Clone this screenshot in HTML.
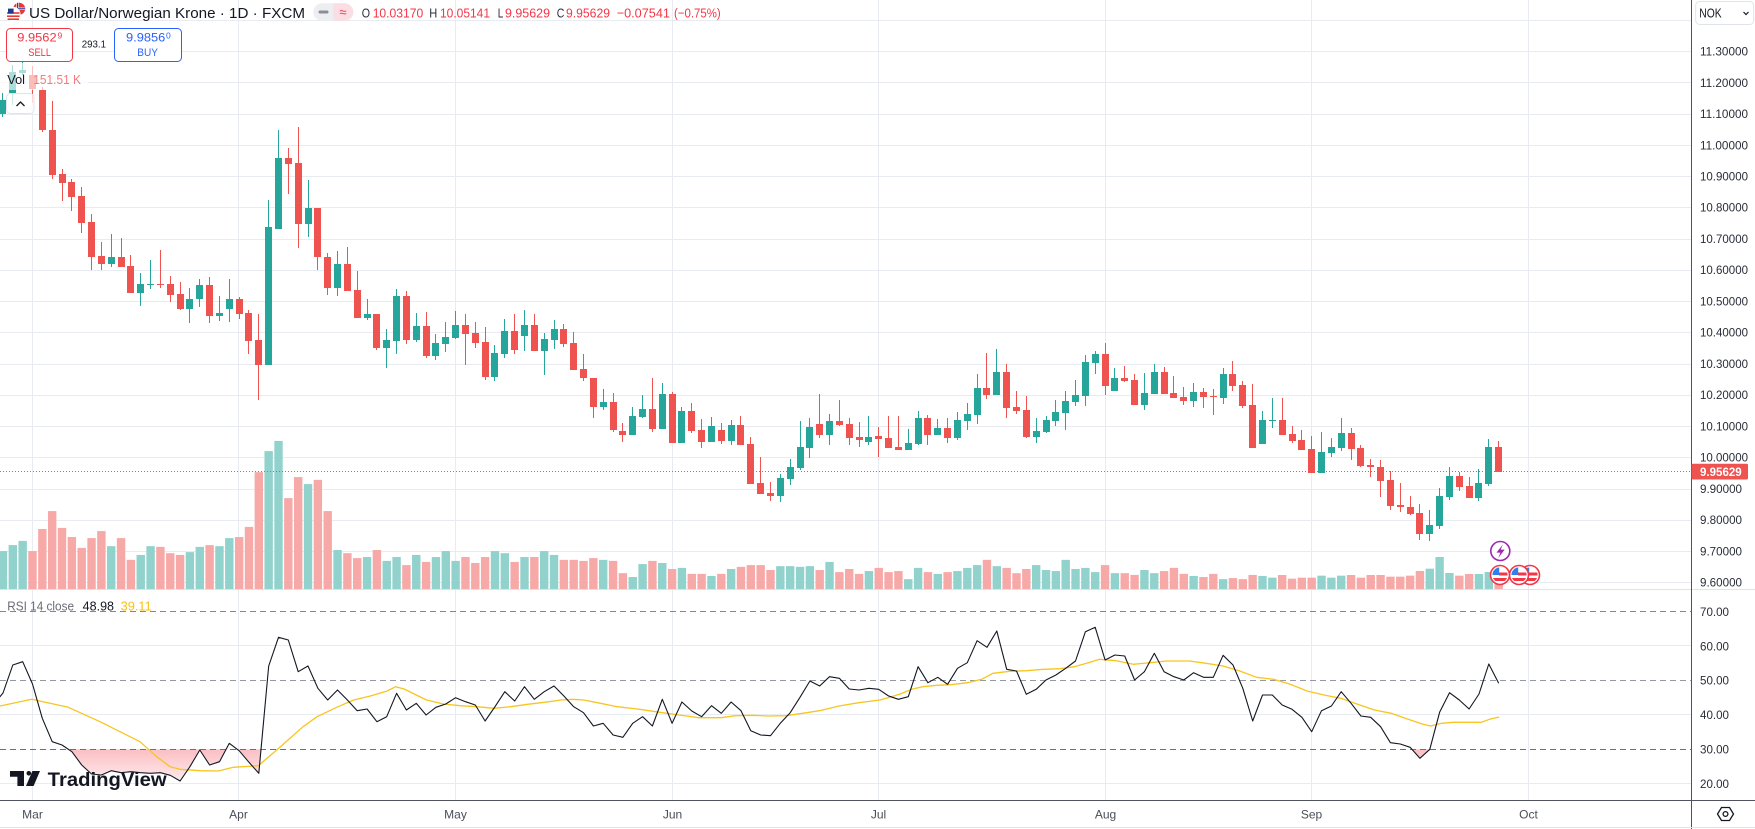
<!DOCTYPE html>
<html><head><meta charset="utf-8"><title>USDNOK 1D</title>
<style>
html,body{margin:0;padding:0;background:#fff}
body{width:1755px;height:829px;overflow:hidden}
svg{display:block;font-family:"Liberation Sans",Arial,sans-serif}
</style></head>
<body>
<svg id="s" width="1755" height="829" viewBox="0 0 1755 829" xmlns="http://www.w3.org/2000/svg">
<defs>
<linearGradient id="pk" x1="0" y1="749.2" x2="0" y2="792" gradientUnits="userSpaceOnUse">
<stop offset="0" stop-color="#f23645" stop-opacity="0.32"/>
<stop offset="1" stop-color="#f23645" stop-opacity="0.03"/>
</linearGradient>
<clipPath id="below30"><rect x="0" y="749.2" width="1691" height="51"/></clipPath>
</defs>
<rect width="1755" height="829" fill="#fff"/>
<g id="dyn"></g>

<!-- legend overlay for volume row -->
<rect x="0" y="63" width="88" height="27" fill="#fff" fill-opacity="0.62"/>
<rect x="6.5" y="93.5" width="27.5" height="20" rx="4" fill="#fff" fill-opacity="0.75" stroke="#e0e3eb"/>
<path d="M16.5,106 L20.5,102 L24.5,106" fill="none" stroke="#131722" stroke-width="1.3"/>
<text x="7.3" y="84" font-size="13" fill="#131722" textLength="17.7" lengthAdjust="spacingAndGlyphs">Vol</text>
<text x="33.3" y="84" font-size="13" fill="#f47c7a" textLength="47.7" lengthAdjust="spacingAndGlyphs">151.51 K</text>

<!-- title row -->
<g>
<circle cx="19.2" cy="8.8" r="6" fill="#e53935"/>
<rect x="13.2" y="7.6" width="12" height="2.4" fill="#fff"/>
<rect x="16.4" y="2.8" width="2.4" height="12" fill="#fff"/>
<rect x="13.2" y="8.2" width="12" height="1.2" fill="#1e40af"/>
<rect x="17" y="2.8" width="1.2" height="12" fill="#1e40af"/>
<circle cx="13.3" cy="14" r="7.2" fill="#fff"/>
<rect x="7" y="12.2" width="12.6" height="1.6" fill="#e53935"/>
<rect x="7" y="15.4" width="12.6" height="1.6" fill="#e53935"/>
<rect x="7.6" y="18.4" width="11.4" height="1.6" fill="#e53935"/>
<rect x="8" y="8.6" width="5.6" height="5" fill="#1e3a8a"/>
</g>
<text x="29" y="17.8" font-size="14.5" fill="#131722" textLength="276" lengthAdjust="spacingAndGlyphs">US Dollar/Norwegian Krone · 1D · FXCM</text>
<rect x="313.3" y="3.3" width="40" height="17.4" rx="8.7" fill="#eceef2"/>
<path d="M333.3,3.3 H344.6 A8.7,8.7 0 0 1 344.6,20.7 H333.3 Z" fill="#fbdde4"/>
<line x1="320" y1="12" x2="327" y2="12" stroke="#8a8d96" stroke-width="3" stroke-linecap="round"/>
<text x="343" y="16.5" font-size="13" fill="#f23645" text-anchor="middle">≈</text>
<g font-size="13">
<text x="361.7" y="17.5" fill="#2a2e39" textLength="8.3" lengthAdjust="spacingAndGlyphs">O</text>
<text x="372.7" y="17.5" fill="#f23645" textLength="50.6" lengthAdjust="spacingAndGlyphs">10.03170</text>
<text x="429.3" y="17.5" fill="#2a2e39" textLength="8" lengthAdjust="spacingAndGlyphs">H</text>
<text x="440" y="17.5" fill="#f23645" textLength="50" lengthAdjust="spacingAndGlyphs">10.05141</text>
<text x="497.7" y="17.5" fill="#2a2e39" textLength="5.6" lengthAdjust="spacingAndGlyphs">L</text>
<text x="505" y="17.5" fill="#f23645" textLength="45" lengthAdjust="spacingAndGlyphs">9.95629</text>
<text x="556.7" y="17.5" fill="#2a2e39" textLength="7.6" lengthAdjust="spacingAndGlyphs">C</text>
<text x="566" y="17.5" fill="#f23645" textLength="44" lengthAdjust="spacingAndGlyphs">9.95629</text>
<text x="616.7" y="17.5" fill="#f23645" textLength="53.3" lengthAdjust="spacingAndGlyphs">−0.07541</text>
<text x="674" y="17.5" fill="#f23645" textLength="46.7" lengthAdjust="spacingAndGlyphs">(−0.75%)</text>
</g>

<!-- sell / buy -->
<rect x="6.5" y="28.5" width="66" height="33" rx="4" fill="#fff" stroke="#f23645"/>
<text x="17.3" y="41.7" font-size="12" fill="#f23645" textLength="39.3" lengthAdjust="spacingAndGlyphs">9.9562</text>
<text x="57.5" y="38.5" font-size="8.5" fill="#f23645">9</text>
<text x="28.3" y="56" font-size="11" fill="#f23645" textLength="22.7" lengthAdjust="spacingAndGlyphs">SELL</text>
<text x="81.7" y="47.7" font-size="10" fill="#131722" textLength="24.3" lengthAdjust="spacingAndGlyphs">293.1</text>
<rect x="114.5" y="28.5" width="67" height="33" rx="4" fill="#fff" stroke="#2962ff"/>
<text x="126" y="41.7" font-size="12" fill="#2962ff" textLength="39.3" lengthAdjust="spacingAndGlyphs">9.9856</text>
<text x="166" y="38.5" font-size="8.5" fill="#2962ff">0</text>
<text x="137.3" y="56" font-size="11" fill="#2962ff" textLength="20.7" lengthAdjust="spacingAndGlyphs">BUY</text>

<!-- RSI legend -->
<text x="7.3" y="610.7" font-size="12.5" fill="#6a6d78" textLength="66.7" lengthAdjust="spacingAndGlyphs">RSI 14 close</text>
<text x="82.7" y="610.7" font-size="12.5" fill="#131722" textLength="31.3" lengthAdjust="spacingAndGlyphs">48.98</text>
<text x="120.7" y="610.7" font-size="12.5" fill="#f5c21b" textLength="31" lengthAdjust="spacingAndGlyphs">39.11</text>

<!-- TradingView logo -->
<g fill="#131722">
<path d="M10,771 H24 V786 H17.4 V776.7 H10 Z"/>
<circle cx="28.8" cy="773.3" r="2.3"/>
<path d="M32.4,771 H40 L33.6,786 H26 Z"/>
<text x="47.7" y="786" font-size="19" font-weight="bold" textLength="119" lengthAdjust="spacingAndGlyphs">TradingView</text>
</g>

<!-- axes -->
<rect x="1692" y="0" width="63" height="829" fill="#fff"/>
<line x1="0" y1="589.5" x2="1755" y2="589.5" stroke="#e0e3eb"/>
<line x1="1691.5" y1="0" x2="1691.5" y2="829" stroke="#50535e"/>
<line x1="0" y1="800.5" x2="1755" y2="800.5" stroke="#50535e"/>
<line x1="0" y1="827.5" x2="1755" y2="827.5" stroke="#e0e3eb"/>
<g id="axis" font-size="12" fill="#2a2e39"></g>

<rect x="1695.7" y="1.5" width="58" height="23" rx="4" fill="#fff" stroke="#e0e3eb"/>
<text x="1699.3" y="17.3" font-size="13" fill="#131722" textLength="22.4" lengthAdjust="spacingAndGlyphs">NOK</text>
<path d="M1743.5,12 L1746,14.5 L1748.5,12" fill="none" stroke="#131722" stroke-width="1.2"/>

<!-- price tag -->
<rect x="1691.5" y="463.8" width="56.5" height="15.7" rx="1.5" fill="#ef5350"/>
<text x="1700" y="476" font-size="12" font-weight="bold" fill="#fff" textLength="41.7" lengthAdjust="spacingAndGlyphs">9.95629</text>

<!-- settings icon -->
<path d="M1721.5,807.5 H1729.5 L1733.5,814 L1729.5,820.5 H1721.5 L1717.5,814 Z" fill="none" stroke="#131722" stroke-width="1.3"/>
<circle cx="1725.5" cy="814" r="2.4" fill="none" stroke="#131722" stroke-width="1.3"/>

<!-- event icons -->
<g id="ev"></g>
</svg>

<script>
(function(){
var X=function(i){return 32.5+9.84*i;};
var ya=function(p){return 40+p/2.8509;}, yb=function(p){return 300+p/3;};
var G='#26a69a',R='#ef5350',GV='#92d2cc',RV='#f7a9a7';
var h='';
[32.5,238.5,455.5,672.5,878.5,1105.5,1311.5,1528.5].forEach(function(x){h+='<line x1="'+x+'" y1="0" x2="'+x+'" y2="800" stroke="#e8ecf2"/>';});
for(var k=0;k<=18;k++){var y=Math.round(20+31.24*k)+0.5;h+='<line x1="0" y1="'+y+'" x2="1691" y2="'+y+'" stroke="#e8ecf2"/>';}
[645.5,714.5,783.5].forEach(function(y){h+='<line x1="0" y1="'+y+'" x2="1691" y2="'+y+'" stroke="#e8ecf2"/>';});

function vols(str,start,f){str.trim().split(/\s+/).forEach(function(t,k){var i=start+k;var top=f(+t.slice(1));var x=X(i)-4.2;h+='<rect x="'+x.toFixed(2)+'" y="'+top.toFixed(2)+'" width="8.4" height="'+Math.max(0,589-top).toFixed(2)+'" fill="'+(t[0]=='G'?GV:RV)+'"/>';});}
function cdl(str,start,f){str.trim().split(/\s+/).forEach(function(t,k){var i=start+k;var c=t[0]=='G'?G:R;var v=t.slice(1).split(',').map(function(n){return f(+n);});var cx=Math.floor(X(i));var wt=Math.round(v[0]),bt=Math.round(v[1]),bb=Math.round(v[2]),wb=Math.round(v[3]);h+='<rect x="'+cx+'" y="'+wt+'" width="1" height="'+Math.max(1,wb-wt)+'" fill="'+c+'"/><rect x="'+(cx-3)+'" y="'+bt+'" width="7" height="'+Math.max(1,bb-bt)+'" fill="'+c+'"/>';});}

vols("G1457 G1440 G1428 R1457 R1394 R1343 R1391 R1417 R1448 R1420 R1400 G1443 R1420 R1482 G1468 G1443 R1445 R1463 R1468 G1460 G1445 R1440 G1443 G1420 R1417 R1388 R1232 G1172 G1143 R1306 R1246 G1266 R1254 R1343 G1454 R1463 R1477 G1474 R1454 G1485 G1474 R1497 G1468 R1488",-3,ya);
vols("G1474 G1457 G1485 R1474 R1491 R1474 G1457 G1463 R1488 G1474 R1474 G1457 G1468 R1482 R1482 R1485 R1477 G1482 R1485 R1520 G1531 G1494 R1485 G1491 R1508 G1505 R1522 R1522 G1528 R1522 G1508 R1502 R1497 R1497 R1511 G1500 G1500 G1502 G1500 R1511 G1488 R1517 R1508 R1522 G1514 R1505 R1517 R1514 G1537 G1505 R1517 G1522 R1517 G1514 G1505 G1497 R1482 G1500 R1505 R1520 R1508 G1497 G1511 G1514 G1482 G1508 G1505 G1517 R1497 G1520 R1520 R1525 G1511 G1520 R1514 R1505 R1522 G1528 R1531 R1522 G1537 R1534 R1537 R1525 G1528",41,ya);
vols("G833 R825 R836 R833 R833 G827 G833 G827 R825 R833 R825 R825 R830 R830 R827 R813 G806 G771 G819 R827 R822 G822 G816 R845",126,yb);

h+='<line x1="0" y1="471.5" x2="1691" y2="471.5" stroke="#ef5350" stroke-dasharray="1 2"/>';

cdl("G150,172,210,220 G70,92,150,185 G62,85,93,100 R75,100,140,180 R135,142,258,262 R175,258,385,395 R368,381,407,458 R397,405,447,487 R419,445,521,549 R496,519,618,655 R577,616,640,655 G553,619,640,647 R565,619,646,647 R613,644,720,720 G664,696,720,757 G627,695,697,710 R599,695,697,706 R673,696,726,746 R690,724,766,770 G707,737,766,806 G682,698,737,760 R676,698,786,806 G730,778,786,800 G681,739,766,803 R732,738,780,794 R770,778,857,894 R780,855,926,1025 G456,533,926,926 G257,336,538,538 R308,336,353,440 R247,351,524,592 G399,479,524,563 R479,479,620,655 R607,619,706,726 G602,640,706,729 R590,640,716,716 R659,713,792,792 G738,781,792,797 R780,780,878,883 G823,855,878,934 G710,730,857,894 R717,730,854,866 G777,815,854,860 R775,815,900,908",-3,ya);
cdl("G838,864,900,911 G804,847,866,890 G773,813,849,853 R781,813,837,926 R804,835,863,877 R818,861,960,968 G870,892,960,971 G795,830,894,906 R781,830,883,894 G770,813,843,888 R781,813,888,888 G835,852,888,954 G798,824,854,880 R810,824,866,874 R832,864,940,940 R895,938,965,971 R964,964,1045,1079 G995,1032,1045,1054 R1006,1032,1111,1117 R1092,1115,1125,1145 G1046,1072,1125,1125 G1012,1052,1074,1077 R964,1052,1108,1117 G978,1009,1108,1108 R1004,1009,1148,1148 G1046,1058,1148,1148 R1035,1058,1114,1120 R1080,1112,1145,1162 G1075,1100,1145,1145 R1092,1112,1142,1151 G1083,1098,1142,1156 R1072,1098,1154,1154 R1131,1152,1265,1265 R1189,1263,1293,1293 R1260,1291,1299,1313 G1237,1249,1299,1316 G1195,1217,1251,1268 G1086,1160,1219,1225 G1078,1103,1162,1191 R1009,1095,1125,1134 G1066,1086,1125,1154 R1026,1086,1097,1100 R1078,1095,1134,1156",41,ya);
cdl("R1089,1131,1139,1159 G1072,1131,1145,1156 R1103,1129,1137,1188 R1072,1134,1162,1162 R1072,1160,1168,1168 G1109,1149,1168,1168 G1058,1078,1151,1154 R1069,1078,1125,1156 G1080,1106,1125,1125 R1078,1106,1134,1148 G1061,1083,1134,1139 G1035,1066,1085,1111 G952,992,1068,1094 R892,992,1011,1023 G881,947,1011,1011 R924,947,1048,1077 R1000,1046,1057,1066 R1015,1055,1131,1134 G1078,1115,1131,1148 G1072,1083,1117,1120 G1026,1061,1085,1100 G1000,1029,1063,1111 G969,1012,1031,1043 G898,918,1014,1043 G887,895,920,952 R864,895,986,1012 G935,964,1000,1000 R929,964,971,974 R952,969,1040,1040 G949,1006,1040,1054 G924,947,1009,1009 R932,947,1009,1009 R958,1006,1020,1020 R989,1018,1028,1040 G978,1004,1028,1046 R992,1004,1017,1048 R995,1015,1017,1069 G935,952,1020,1037 R915,952,986,1000 R972,984,1043,1048 R981,1040,1162,1162 G1058,1083,1151,1151",84,ya);
cdl("G295,359,362,383 R295,360,405,405 R378,402,423,430 R390,420,450,450 R408,447,518,518 G396,456,518,518 G414,441,458,470 G354,399,443,452 R384,399,447,480 R435,444,498,500 R477,494,502,530 R480,501,542,590 R514,540,617,630 R549,614,622,636 R588,621,641,645 R612,638,702,720 G630,675,702,722 G565,588,678,686 G500,528,590,599 R515,528,561,573 R531,558,594,594 G507,549,594,602 G417,441,552,557 R423,441,516,516",126,yb);

h+='<line x1="0" y1="611.5" x2="1691" y2="611.5" stroke="#4caf50" stroke-dasharray="6 4"/>';
h+='<line x1="0" y1="680.5" x2="1691" y2="680.5" stroke="#9598a1" stroke-dasharray="6 4"/>';
h+='<line x1="0" y1="749.5" x2="1691" y2="749.5" stroke="#f23645" stroke-dasharray="6 4"/>';

var rsi=[705,693,665,661.7,684,718.3,741.7,745,751.7,765,774,775,770.7,772.7,771.7,772.7,773.3,772.7,775.3,781,766.7,750,765,761.7,743.3,750.7,762.3,773.3,666,637.3,640,671.7,
666,688.3,700,690,700,710.7,709,721.7,716.7,693.3,710,703.3,715,707.3,704,697.7,701.7,705,721,706.7,691.7,701,686.7,699.3,691.7,686,696,706.7,712.7,726,723.3,735,737.3,723.3,716.7,726,699.3,723.3,702,711,716.7,705.7,713.3,702,710.7,730.7,735,735.7,723.3,712.7,697.3,681,686,676.7,678.3,689,690,688.3,689.3,
696,699.3,696.7,666.7,682.7,677.3,684.3,668.3,662.7,640.7,647.3,631,669.3,671,694.3,689.3,680,675,668.3,661,631.7,627.3,660,655,656,680,671.7,653.3,671.7,676.7,680,672.7,677.3,677.3,655.3,665,688.3,721,695,695,705,709.3,717.3,731.7,710.7,706,691.7,703.3,716,717.3,726.7,742.7,744,747.3,758.3,749.3,712.3,692.7,700,709,694,664,683.3];
var pts=rsi.map(function(y,k){return [X(k-4),y];});
var pstr=pts.map(function(p){return p[0].toFixed(1)+','+p[1].toFixed(1);}).join(' ');
var last=pts[pts.length-1], first=pts[0];
h+='<g clip-path="url(#below30)"><polygon points="'+pstr+' '+last[0].toFixed(1)+',749.2 '+first[0].toFixed(1)+',749.2" fill="url(#pk)"/></g>';

var ma=[];
[[0,348],[95,328],[205,352],[300,395],[420,455],[470,500],[510,530],[540,538],[600,542],[655,543],[700,532],[760,528],[775,527],[830,480],[870,445]].forEach(function(p){ma.push([p[0]/3,590+p[1]/3]);});
[[540,410],[565,380],[600,352],[630,330],[660,318],[690,303],[705,290],[720,297],[760,330],[790,342],[820,347],[850,350],[880,355],[910,350],[940,343],[970,337],[1000,330],[1020,328],[1040,330],[1070,340],[1100,350],[1140,358],[1180,368],[1210,375],[1245,383],[1285,383],[1310,377],[1340,376],[1370,378],[1400,377],[1430,370],[1460,362],[1495,348],[1530,338],[1568,330]].forEach(function(p){ma.push([p[0]/1.7818,590+p[1]/3]);});
[[20,325],[45,312],[65,298],[85,290],[110,286],[135,284],[165,278],[190,268],[210,250],[240,244],[270,242],[300,238],[330,236],[355,230],[380,218],[400,208],[430,212],[460,223],[490,218],[520,213],[560,213],[590,220],[620,228],[650,243],[680,262],[710,268],[740,283],[770,303],[800,315],[830,325],[860,343],[890,360],[920,370],[950,388],[975,402],[990,408],[1010,400],[1030,397],[1060,397],[1080,397],[1095,388],[1112,381]].forEach(function(p){ma.push([875+p[0]/1.7818,590+p[1]/3]);});
h+='<polyline points="'+ma.map(function(p){return p[0].toFixed(1)+','+p[1].toFixed(1);}).join(' ')+'" fill="none" stroke="#f7c520" stroke-width="1.3" stroke-linejoin="round"/>';
h+='<polyline points="'+pstr+'" fill="none" stroke="#131722" stroke-width="1.1" stroke-linejoin="round"/>';

document.getElementById('dyn').innerHTML=h;

var a='';
var pl=['11.30000','11.20000','11.10000','11.00000','10.90000','10.80000','10.70000','10.60000','10.50000','10.40000','10.30000','10.20000','10.10000','10.00000','9.90000','9.80000','9.70000','9.60000'];
pl.forEach(function(t,k){var y=20+31.24*(k+1)+4.3;a+='<text x="1700" y="'+y.toFixed(1)+'" textLength="'+(t.length==8?48:42)+'" lengthAdjust="spacingAndGlyphs">'+t+'</text>';});
[['70.00',611.6],['60.00',646],['50.00',680.4],['40.00',714.8],['30.00',749.2],['20.00',783.6]].forEach(function(r){a+='<text x="1700" y="'+(r[1]+4.3).toFixed(1)+'" textLength="29" lengthAdjust="spacingAndGlyphs">'+r[0]+'</text>';});
[['Mar',32.5],['Apr',238.5],['May',455.5],['Jun',672.5],['Jul',878.5],['Aug',1105.5],['Sep',1311.5],['Oct',1528.5]].forEach(function(m){a+='<text x="'+m[1]+'" y="818.5" text-anchor="middle" fill="#4a4e59">'+m[0]+'</text>';});
document.getElementById('axis').innerHTML=a;

function us(cx,cy,id){return '<circle cx="'+cx+'" cy="'+cy+'" r="9.5" fill="#fff" stroke="#f23645" stroke-width="1.6"/><clipPath id="'+id+'"><circle cx="'+cx+'" cy="'+cy+'" r="7.6"/></clipPath><g clip-path="url(#'+id+')"><rect x="'+(cx-8)+'" y="'+(cy-8)+'" width="16" height="16" fill="#fff"/><rect x="'+(cx-1)+'" y="'+(cy-2.5)+'" width="9" height="3" fill="#f23645"/><rect x="'+(cx-8)+'" y="'+(cy+3)+'" width="16" height="3" fill="#f23645"/><rect x="'+(cx-8)+'" y="'+(cy-8)+'" width="7.2" height="8" fill="#2f80ed"/></g>';}
var e='';
e+=us(1530,575,'u3')+us(1519,575,'u2')+us(1500,575,'u1');
e+='<circle cx="1500.3" cy="551" r="9.5" fill="#fff" stroke="#9c27b0" stroke-width="1.6"/><path d="M1502.8,544.5 L1496.5,552.6 L1500.4,552.6 L1498.3,558 L1504.6,549.6 L1500.7,549.6 Z" fill="#9c27b0"/>';
document.getElementById('ev').innerHTML=e;
})();
</script>
</body></html>
